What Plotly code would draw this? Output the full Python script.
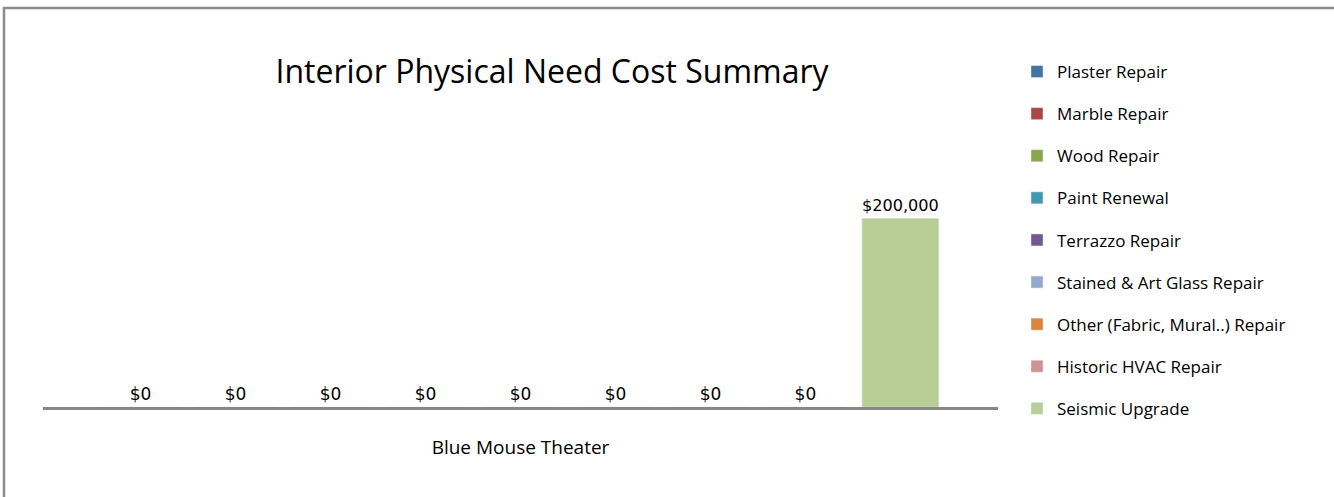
import plotly.graph_objects as go

categories = ["Blue Mouse Theater"]
series_names = ["Plaster Repair", "Marble Repair", "Wood Repair", "Paint Renewal",
                "Terrazzo Repair", "Stained & Art Glass Repair",
                "Other (Fabric, Mural..) Repair", "Historic HVAC Repair", "Seismic Upgrade"]
series_values = [0, 0, 0, 0, 0, 0, 0, 0, 200000]
colors = ["#4572A7", "#AA4643", "#89A54E", "#4198AF", "#71588F",
          "#93A9CF", "#DB843D", "#D19392", "#B9CD96"]

FONT = "Open Sans"
fig = go.Figure()
for i, (name, val, col) in enumerate(zip(series_names, series_values, colors)):
    fig.add_trace(go.Bar(
        x=categories, y=[val], name=name, marker_color=col,
        texttemplate="$%{y:,}", textposition="outside",
        textfont=dict(family="DejaVu Sans", size=17, color="#000"),
        cliponaxis=False, legendgroup=str(i),
    ))

L, R, T, B = 43, 336, 171, 90
W, H = 1334, 497
pw, ph = W - L - R, H - T - B
def px(x): return (x - L) / pw
def py(y): return (H - B - y) / ph

fig.update_layout(
    width=W, height=H,
    margin=dict(l=L, r=R, t=T, b=B),
    paper_bgcolor="white", plot_bgcolor="white",
    barmode="group", bargap=0.105, bargroupgap=0.19,
    font=dict(family=FONT, size=14, color="#000"),
    title=dict(text="Interior Physical Need Cost Summary", x=552 / W, xanchor="center",
               y=1 - 72 / H, yanchor="middle", font=dict(family=FONT, size=32)),
    xaxis=dict(showline=True, linecolor="#868686", linewidth=3, ticks="",
               tickfont=dict(family=FONT, size=19), showgrid=False,
               ticklabelstandoff=21),
    yaxis=dict(range=[0, 250000], visible=False, showgrid=False, zeroline=False),
    legend=dict(x=px(1017), xanchor="left", y=py(54), yanchor="top",
                traceorder="grouped", tracegroupgap=17, maxheight=470,
                font=dict(family=FONT, size=17), itemwidth=30),
    showlegend=True,
    shapes=[dict(type="rect", xref="paper", yref="paper",
                 x0=px(4), x1=px(1345), y0=py(8), y1=py(505),
                 line=dict(color="#8C8C8C", width=2.5), fillcolor="rgba(0,0,0,0)")],
)
fig.write_html("out.html")
